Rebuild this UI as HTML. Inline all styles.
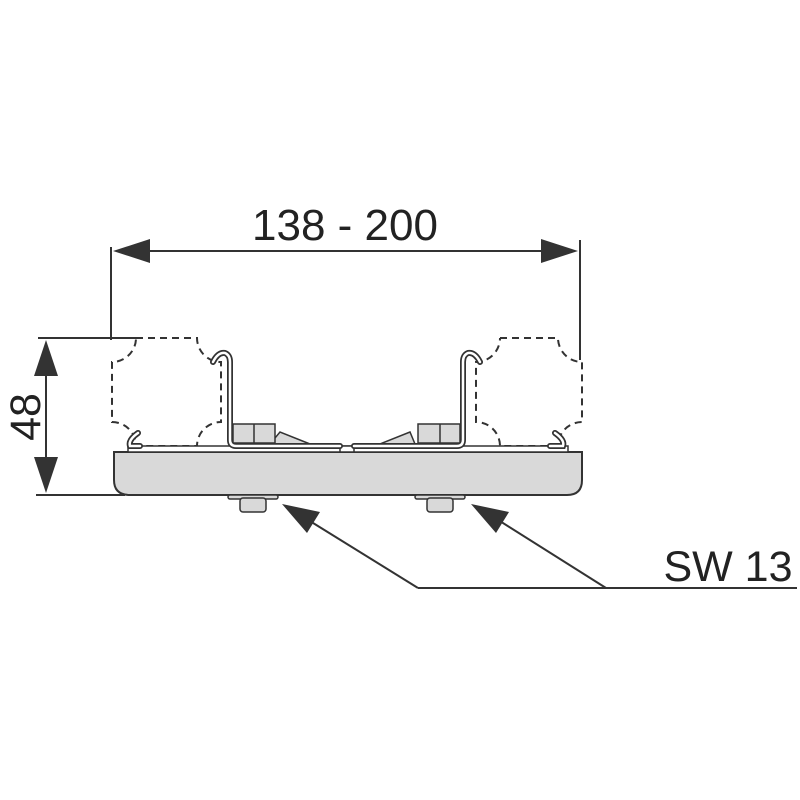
<!DOCTYPE html>
<html><head><style>body{margin:0;background:#fff}svg{display:block}</style></head><body>
<svg width="800" height="800" viewBox="0 0 800 800" xmlns="http://www.w3.org/2000/svg" font-family="Liberation Sans, Arial, sans-serif">
<g stroke="#333" stroke-width="2" fill="none">
<line x1="111" y1="247" x2="111" y2="340"/>
<line x1="580" y1="240" x2="580" y2="360"/>
<line x1="140" y1="251" x2="550" y2="251"/>
<line x1="38" y1="338" x2="138" y2="338"/>
<line x1="36" y1="495" x2="125" y2="495"/>
<line x1="46" y1="365" x2="46" y2="470"/>
<line x1="418" y1="588" x2="797" y2="588"/>
<line x1="418" y1="588" x2="305" y2="518"/>
<line x1="606" y1="588" x2="495" y2="518"/>
</g>
<g fill="#333">
<polygon points="113,251 150,239 150,263"/>
<polygon points="578,251 541,239 541,263"/>
<polygon points="46,340 34,376 58,376"/>
<polygon points="46,493 34,457 58,457"/>
<polygon points="282,504 320,512 307,533"/>
<polygon points="471,504 509,512 496,533"/>
</g>
<text x="345" y="240" font-size="44" text-anchor="middle" fill="#222">138 - 200</text>
<text x="728" y="581" font-size="43" text-anchor="middle" fill="#222">SW 13</text>
<text transform="translate(40,417) rotate(-90)" font-size="43" text-anchor="middle" fill="#222">48</text>
<g stroke="#333" stroke-width="2" fill="none" stroke-dasharray="7,5">
<path d="M136,338 H197 A24,24 0 0 0 221,362 V422 A24,24 0 0 0 197,446 H136 A24,24 0 0 0 112,422 V362 A24,24 0 0 0 136,338"/>
<path d="M500,338 H558 A24,24 0 0 0 582,362 V422 A24,24 0 0 0 558,446 H500 A24,24 0 0 0 476,422 V362 A24,24 0 0 0 500,338"/>
</g>
<path d="M114,452 H582 V480 Q582,495 567,495 H130 Q114,495 114,480 Z" fill="#d9d9d9" stroke="#333" stroke-width="2"/>
<rect x="128" y="446" width="440" height="6" fill="#fff" stroke="#333" stroke-width="1.5"/>
<rect x="340" y="446" width="14" height="6" fill="#fff" stroke="#333" stroke-width="1.5"/>
<path d="M270,444 L280,432 L310,444 Z M415,444 L410,432 L380,444 Z" fill="#d9d9d9" stroke="#333" stroke-width="1.5"/>
<rect x="233" y="424" width="42" height="19" fill="#d9d9d9" stroke="#333" stroke-width="1.5"/>
<line x1="254" y1="424" x2="254" y2="443" stroke="#333" stroke-width="1.5"/>
<rect x="418" y="424" width="42" height="19" fill="#d9d9d9" stroke="#333" stroke-width="1.5"/>
<line x1="440" y1="424" x2="440" y2="443" stroke="#333" stroke-width="1.5"/>
<g fill="none" stroke="#333" stroke-width="6" stroke-linecap="round">
<path d="M213,362 Q218,352 225,353 Q230,355 230,362 V440 Q230,446 236,446 H340"/>
<path d="M480,362 Q475,352 468,353 Q463,355 463,362 V440 Q463,446 457,446 H354"/>
<path d="M138,433 Q128,440 130,446 H140"/>
<path d="M555,433 Q565,440 563,446 H550"/>
</g>
<g fill="none" stroke="#fff" stroke-width="2.5" stroke-linecap="round">
<path d="M213,362 Q218,352 225,353 Q230,355 230,362 V440 Q230,446 236,446 H340"/>
<path d="M480,362 Q475,352 468,353 Q463,355 463,362 V440 Q463,446 457,446 H354"/>
<path d="M138,433 Q128,440 130,446 H140"/>
<path d="M555,433 Q565,440 563,446 H550"/>
</g>
<rect x="228" y="495" width="50" height="4" rx="2" fill="#d9d9d9" stroke="#333" stroke-width="1.5"/>
<rect x="240" y="498" width="26" height="14" rx="3" fill="#d9d9d9" stroke="#333" stroke-width="1.5"/>
<rect x="415" y="495" width="50" height="4" rx="2" fill="#d9d9d9" stroke="#333" stroke-width="1.5"/>
<rect x="427" y="498" width="26" height="14" rx="3" fill="#d9d9d9" stroke="#333" stroke-width="1.5"/>
</svg>
</body></html>
